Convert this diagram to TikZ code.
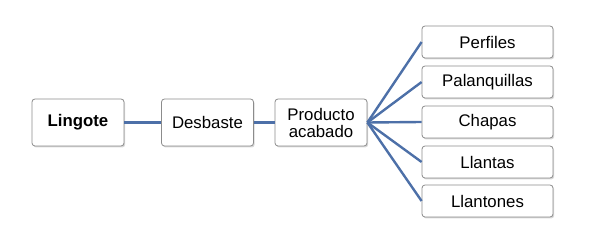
\documentclass[tikz,border=0pt]{standalone}
\usepackage{fontspec}
\setmainfont{Liberation Sans}
\usepackage{xcolor}
\usepackage{tikz}
\usetikzlibrary{shadows}

\definecolor{linkblue}{HTML}{4D70A8}
\definecolor{boxgray}{HTML}{8C8C8C}

\begin{document}
\begin{tikzpicture}[x=1pt,y=1pt,
  every node/.style={font=\fontsize{16.8}{17}\selectfont},
  stagebox/.style={draw=boxgray,line width=0.8pt,rounded corners=3pt,fill=white,
    drop shadow={opacity=0.3,shadow xshift=1.2pt,shadow yshift=-1.5pt},
    minimum width=92pt,minimum height=47pt,inner sep=2pt,align=center},
  prodbox/.style={stagebox,minimum width=131pt,minimum height=32pt},
  link/.style={draw=linkblue,line width=2.4pt}]
  \useasboundingbox (0,0) rectangle (607,238);
  \node[stagebox,font=\fontsize{16.8}{17}\selectfont\bfseries] (lingote) at (78,115.5) {Lingote};
  \node[stagebox] (desbaste) at (207.5,115.5) {Desbaste};
  \node[stagebox] (acabado) at (321,115.5) {Producto\\acabado};
  \node[prodbox] (perfiles) at (487.5,196) {Perfiles};
  \node[prodbox] (palanq) at (487.5,156) {Palanquillas};
  \node[prodbox] (chapas) at (487.5,116) {Chapas};
  \node[prodbox] (llantas) at (487.5,76) {Llantas};
  \node[prodbox] (llantones) at (487.5,37) {Llantones};
  \draw[link] (lingote) -- (desbaste);
  \draw[link] (desbaste) -- (acabado);
  \foreach \p in {perfiles,palanq,chapas,llantas,llantones}
    \draw[link] (acabado.east) -- (\p.west);
\end{tikzpicture}
\end{document}
